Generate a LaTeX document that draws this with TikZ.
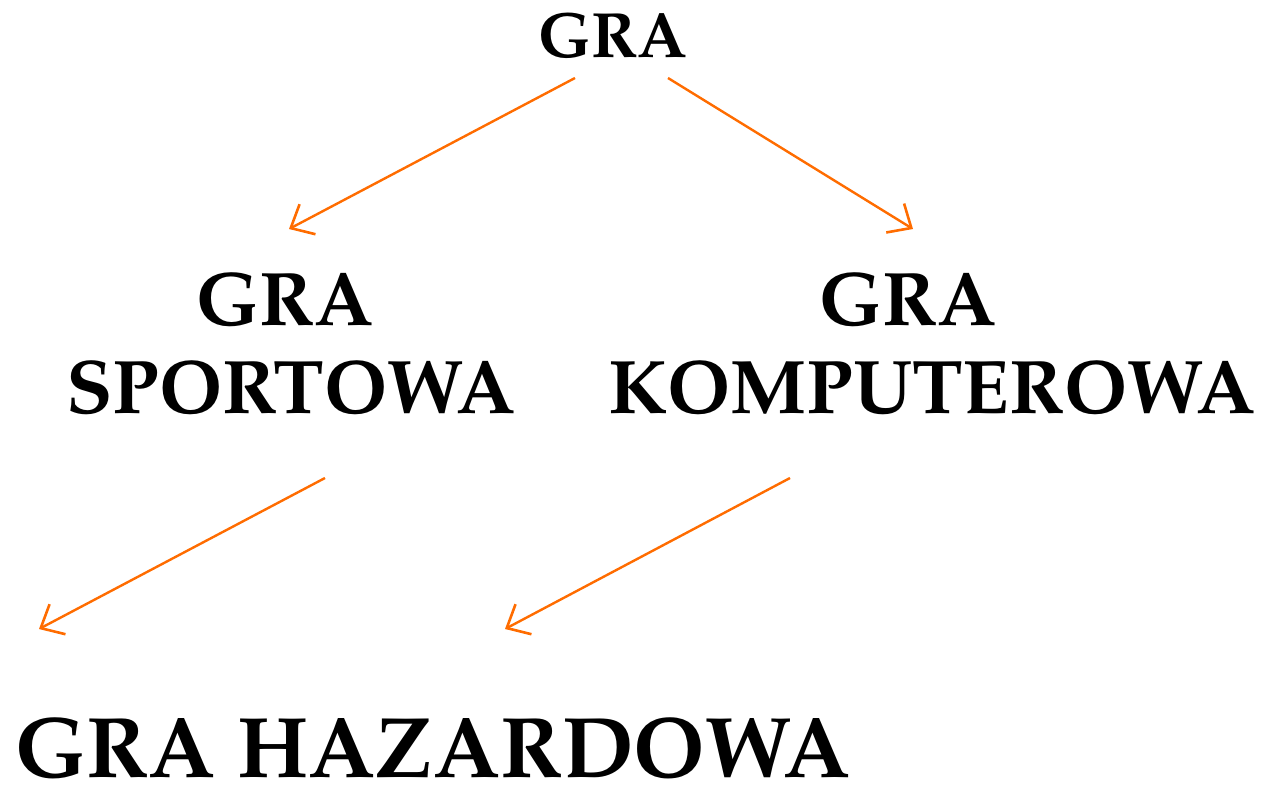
\documentclass[tikz,border=0pt]{standalone}
\usepackage[T1]{fontenc}
\usepackage{mathpazo}
\usetikzlibrary{arrows.meta}
\definecolor{arr}{RGB}{255,108,0}
\tikzset{
  lbl/.style={font=\bfseries, inner sep=0pt, anchor=base, align=center, text=black},
  conn/.style={draw=arr, line width=2.4pt, -{Straight Barb[length=19pt,width=34pt,line width=2.6pt]}},
}
\begin{document}
\begin{tikzpicture}[x=1pt,y=-1pt]
\useasboundingbox (0,0) rectangle (1270,785);
\node[lbl, font=\bfseries\fontsize{64}{64}\selectfont] (gra) at (613,57) {GRA};
\node[lbl, font=\bfseries\fontsize{76}{88}\selectfont, anchor=base] (sport) at (291,413) {GRA\hspace*{12pt}\\SPORTOWA};
\node[lbl, font=\bfseries\fontsize{76}{88}\selectfont, anchor=base] (komp) at (932,413) {GRA\hspace*{48pt}\\KOMPUTEROWA};
\node[lbl, font=\bfseries\fontsize{86}{86}\selectfont, anchor=base west, text depth=0pt] (haz) at (15,777) {GRA HAZARDOWA};
\coordinate (a1s) at (575,78);
\coordinate (a1e) at (289,229);
\coordinate (a2s) at (668,78);
\coordinate (a2e) at (913,229);
\coordinate (a3s) at (325,478);
\coordinate (a3e) at (39,629);
\coordinate (a4s) at (790,478);
\coordinate (a4e) at (505,629);
\draw[conn] (a1s) -- (a1e);
\draw[conn] (a2s) -- (a2e);
\draw[conn] (a3s) -- (a3e);
\draw[conn] (a4s) -- (a4e);
\end{tikzpicture}
\end{document}
